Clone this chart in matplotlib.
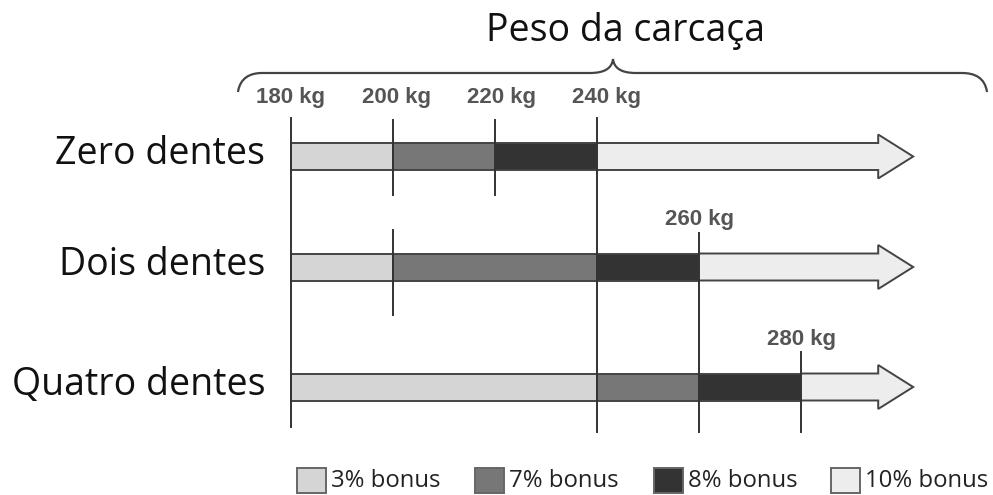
import matplotlib.pyplot as plt
from matplotlib.patches import Polygon, Rectangle, PathPatch
from matplotlib.path import Path

# data
row_names = ["Zero dentes", "Dois dentes", "Quatro dentes"]
zero_breaks = [180, 200, 220, 240]
dois_breaks = [180, 200, 240, 260]
quatro_breaks = [180, 240, 260, 280]
bonus_labels = ["3% bonus", "7% bonus", "8% bonus", "10% bonus"]
top_weights = [180, 200, 220, 240]
arrow_end = 302  # open end of scale (kg)

bonus_colors = ["#d5d5d5", "#777777", "#333333", "#ededed"]
edge = "#444444"

# layout (pixel rows)
W, H = 993, 495
row_y = [156.5, 267, 387]
shaft_h = 27
head_h = 44
px0, px_per_kg = 291, 5.1

fig = plt.figure(figsize=(W / 100, H / 100), dpi=100)
ax = fig.add_axes([0, 0, 1, 1])
ax.set_xlim(180 - px0 / px_per_kg, 180 + (W - px0) / px_per_kg)
ax.set_ylim(H, 0)
ax.axis("off")

# pixel overlay for decorations
deco = fig.add_axes([0, 0, 1, 1], zorder=-1)
deco.set_xlim(0, W)
deco.set_ylim(H, 0)
deco.axis("off")

head_len = 35 / px_per_kg
for y, breaks in zip(row_y, [zero_breaks, dois_breaks, quatro_breaks]):
    for i in range(3):
        ax.barh(y, breaks[i + 1] - breaks[i], left=breaks[i], height=shaft_h,
                color=bonus_colors[i], edgecolor=edge, linewidth=1.4, zorder=2)
    x0 = breaks[-1]
    xb = arrow_end - head_len
    pts = [(x0, y - shaft_h / 2), (xb, y - shaft_h / 2), (xb, y - head_h / 2),
           (arrow_end, y), (xb, y + head_h / 2), (xb, y + shaft_h / 2), (x0, y + shaft_h / 2)]
    ax.add_patch(Polygon(pts, closed=False, facecolor=bonus_colors[3], edgecolor=edge,
                         linewidth=1.4, zorder=2))

# vertical guide lines
guides = [(180, 118, 427), (200, 120, 195), (200, 230, 315), (220, 120, 195),
          (240, 118, 432), (260, 233, 432), (280, 352, 432)]
for kg, y0, y1 in guides:
    ax.plot([kg, kg], [y0, y1], color="#333333", lw=1.4, zorder=3)

# weight labels
kg_font = dict(family="Liberation Sans", fontweight="bold", fontsize=16, color="#555555",
               ha="center", va="center")
for kg in top_weights:
    ax.text(kg + (kg - 180) * 0.03, 98, f"{kg} kg", **kg_font)
ax.text(dois_breaks[-1], 219, f"{dois_breaks[-1]} kg", **kg_font)
ax.text(quatro_breaks[-1], 339, f"{quatro_breaks[-1]} kg", **kg_font)

# row labels
for y, name in zip(row_y, row_names):
    deco.text(265, y - 2, name, family="Open Sans", fontsize=27, color="#111111",
              ha="right", va="center")

# title and brace
deco.text(626, 31, "Peso da carcaça", family="Open Sans", fontsize=27, color="#111111",
          ha="center", va="center")
verts = [(238, 92), (240, 78), (250, 73), (262, 73), (590, 73),
         (605, 73), (612, 68), (613, 59), (614, 68), (621, 73), (636, 73),
         (962, 73), (975, 73), (985, 78), (987, 92)]
codes = [Path.MOVETO, Path.CURVE4, Path.CURVE4, Path.CURVE4, Path.LINETO,
         Path.CURVE4, Path.CURVE4, Path.CURVE4, Path.CURVE4, Path.CURVE4, Path.CURVE4,
         Path.LINETO, Path.CURVE4, Path.CURVE4, Path.CURVE4]
deco.add_patch(PathPatch(Path(verts, codes), fill=False, edgecolor="#444444", lw=1.6))

# legend
box_x = [297, 475, 654, 831]
for bx, lab, col in zip(box_x, bonus_labels, bonus_colors):
    deco.add_patch(Rectangle((bx, 468), 29, 25, facecolor=col, edgecolor="#666666", lw=1.4))
    deco.text(bx + 34, 481, lab, family="Open Sans", fontsize=17.2, color="#222222",
              ha="left", va="center")

plt.savefig("out.png", dpi=100)
